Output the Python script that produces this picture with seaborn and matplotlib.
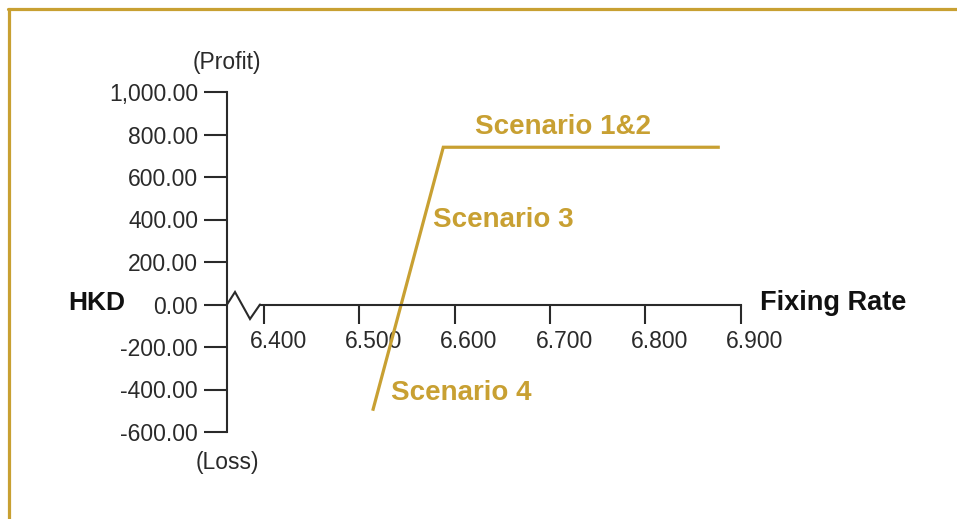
import matplotlib
matplotlib.use("Agg")
import matplotlib.pyplot as plt
import matplotlib.transforms as mtransforms
from matplotlib.lines import Line2D
import seaborn as sns
import pandas as pd

# ---- data ----
fixing_rate = [6.514, 6.588, 6.878]
profit_hkd = [-500, 740, 740]
x_ticks = [6.4, 6.5, 6.6, 6.7, 6.8, 6.9]
y_ticks = [-600, -400, -200, 0, 200, 400, 600, 800, 1000]
scenario_labels = ["Scenario 1&2", "Scenario 3", "Scenario 4"]

GOLD = "#C8A032"
DARK = "#2a2a2a"

sns.set_theme(style="white")
plt.rcParams["font.family"] = ["Liberation Sans", "DejaVu Sans"]

W, H, DPI = 957, 519, 100
fig = plt.figure(figsize=(W / DPI, H / DPI), dpi=DPI)
ax = fig.add_axes([0, 0, 1, 1])
ax.set_facecolor("none")

# pixel mapping of the reference
px_per_x = 953.6      # pixels per 1.0 of rate
x0_px = 264.0         # pixel of 6.4
px_per_y = 0.2125     # pixels per 1 HKD
y0_px = 304.5         # pixel (from top) of 0

def X(px):
    return 6.4 + (px - x0_px) / px_per_x

def Y(py):
    return (y0_px - py) / px_per_y

ax.set_xlim(X(0), X(W))
ax.set_ylim(Y(H), Y(0))

df = pd.DataFrame({"rate": fixing_rate, "pnl": profit_hkd})
sns.lineplot(data=df, x="rate", y="pnl", sort=False, color=GOLD,
             linewidth=2.3, ax=ax, solid_joinstyle="miter", solid_capstyle="butt")

# axes spines
axis_x = X(227)
for s in ["top", "right"]:
    ax.spines[s].set_visible(False)
ax.spines["left"].set_position(("data", axis_x))
ax.spines["left"].set_bounds(y_ticks[0], y_ticks[-1])
ax.spines["bottom"].set_position(("data", 0))
ax.spines["bottom"].set_bounds(X(260), x_ticks[-1])
for s in ["left", "bottom"]:
    ax.spines[s].set_color(DARK)
    ax.spines[s].set_linewidth(1.5)

# axis break zigzag
ax.plot([axis_x, X(235), X(250), X(260)], [0, Y(292), Y(319), 0],
        color=DARK, linewidth=1.5, solid_joinstyle="miter")

ax.set_xticks(x_ticks)
ax.set_xticklabels([f"{v:.3f}" for v in x_ticks])
ax.set_yticks(y_ticks)
ax.set_yticklabels([f"{v:,.2f}" for v in y_ticks])
ax.tick_params(axis="y", direction="out", length=16.5, width=1.5, color=DARK,
               pad=4.3, labelsize=16.5, labelcolor=DARK, left=True)
ax.tick_params(axis="x", direction="out", length=13.7, width=1.5, color=DARK,
               pad=4.5, labelsize=16.5, labelcolor=DARK, bottom=True)
offset = mtransforms.ScaledTranslation(14 / DPI, 0, fig.dpi_scale_trans)
for lab in ax.get_xticklabels():
    lab.set_transform(lab.get_transform() + offset)
ax.set_xlabel("")
ax.set_ylabel("")

# annotations
bold = dict(fontweight="bold", va="center", ha="left")
ax.text(X(475), Y(127), scenario_labels[0], color=GOLD, fontsize=20, **bold)
ax.text(X(433), Y(220), scenario_labels[1], color=GOLD, fontsize=20, **bold)
ax.text(X(391), Y(393), scenario_labels[2], color=GOLD, fontsize=20, **bold)
ax.text(X(760), Y(303), "Fixing Rate", color="#111111", fontsize=19.5, **bold)
ax.text(X(68), Y(303), "HKD", color="#111111", fontsize=19, **bold)
ax.text(axis_x, Y(63), "(Profit)", color=DARK, fontsize=16.5, ha="center", va="center")
ax.text(axis_x, Y(462), "(Loss)", color=DARK, fontsize=16.5, ha="center", va="center")

# frame border (top and left gold rules)
fig.add_artist(Line2D([8 / W, 1], [1 - 8.5 / H, 1 - 8.5 / H], color=GOLD,
                      linewidth=2.3, transform=fig.transFigure))
fig.add_artist(Line2D([9 / W, 9 / W], [0, 1 - 8.5 / H], color=GOLD,
                      linewidth=2.3, transform=fig.transFigure))

fig.savefig("out.png", dpi=DPI, facecolor="white")
